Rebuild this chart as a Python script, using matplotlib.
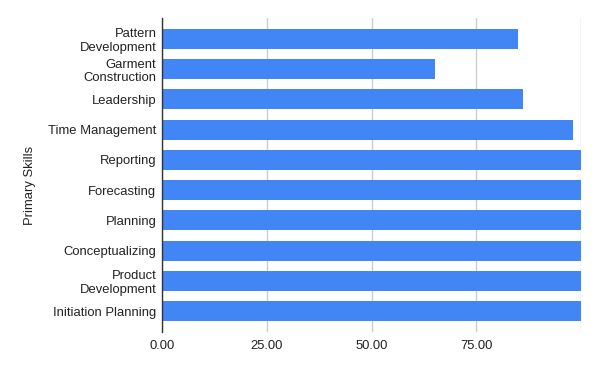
import matplotlib
matplotlib.use("Agg")
import matplotlib.pyplot as plt

categories = ["Pattern\nDevelopment", "Garment\nConstruction", "Leadership", "Time Management",
              "Reporting", "Forecasting", "Planning", "Conceptualizing",
              "Product\nDevelopment", "Initiation Planning"]
values = [85, 65, 86, 98, 100, 100, 100, 100, 100, 100]
xticks = [0, 25, 50, 75, 100]
xticklabels = ["0.00", "25.00", "50.00", "75.00", ""]

plt.rcParams["font.family"] = ["Liberation Sans", "DejaVu Sans"]
fig = plt.figure(figsize=(6, 3.71), dpi=100)
ax = fig.add_axes([0.27, 0.105, 0.6988, 0.8465])

fs = 9.4
ypos = list(range(len(categories)))
ax.barh(ypos, values, height=0.66, color="#4285F4", zorder=3)
ax.set_yticks(ypos)
ax.set_yticklabels(categories, fontsize=fs, color="#222222", linespacing=1.15)
ax.set_ylim(9.69, -0.69)
ax.set_xlim(0, 100)
ax.set_xticks(xticks)
ax.set_xticklabels(xticklabels, fontsize=fs, color="#222222")
ax.tick_params(axis="y", length=0, pad=4)
ax.tick_params(axis="x", length=0, pad=6)
ax.grid(axis="x", color="#cccccc", linewidth=1, zorder=0)
ax.grid(axis="y", visible=False)
for s in ["top", "right", "bottom"]:
    ax.spines[s].set_visible(False)
ax.spines["left"].set_color("#333333")
ax.spines["left"].set_linewidth(1)
ax.spines["left"].set_zorder(4)
ax.set_ylabel("Primary Skills", fontsize=fs, color="#222222")
ax.yaxis.set_label_coords(-0.30, 0.468)
fig.savefig("out.png", dpi=100)
